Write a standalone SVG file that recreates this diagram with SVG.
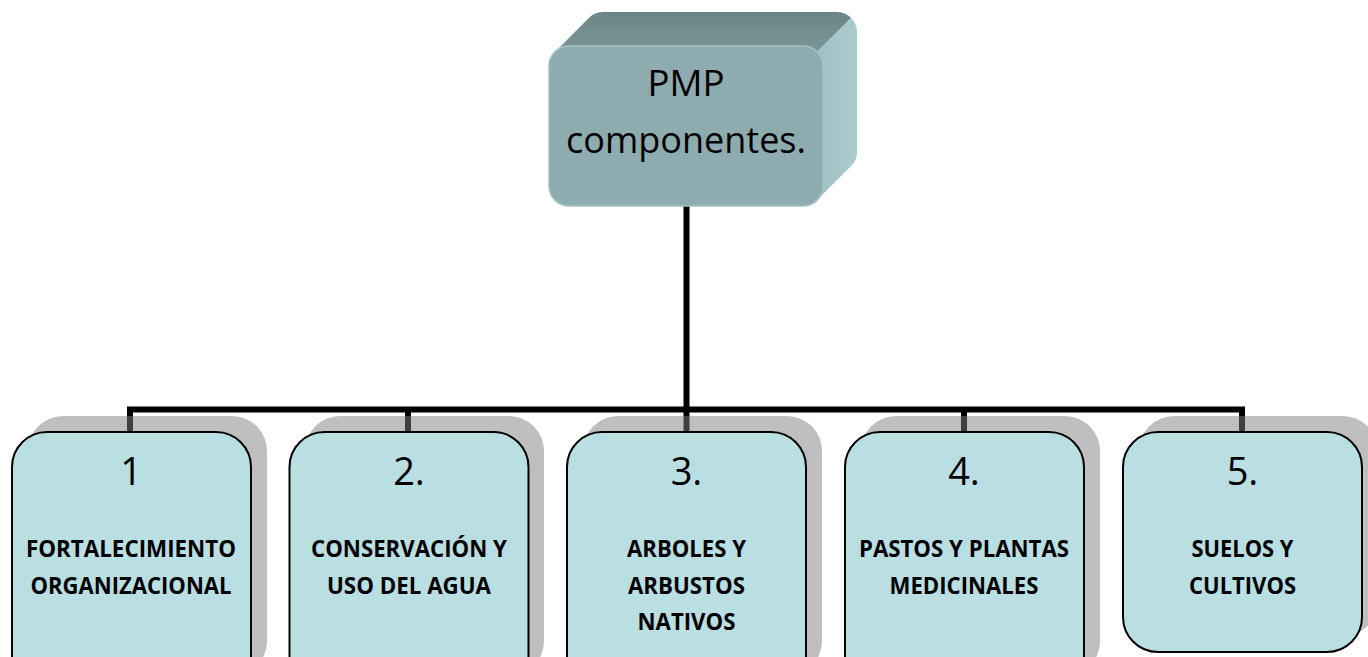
<svg xmlns="http://www.w3.org/2000/svg" width="1368" height="657" viewBox="0 0 1368 657">
<defs>
<linearGradient id="gTop" x1="0" y1="1" x2="0" y2="0">
<stop offset="0" stop-color="#7c9799"/>
<stop offset="1" stop-color="#6b8587"/>
</linearGradient>
<linearGradient id="gSide" x1="0" y1="0" x2="1" y2="0">
<stop offset="0" stop-color="#9fbfc2"/>
<stop offset="1" stop-color="#acccce"/>
</linearGradient>
</defs>
<style>
.line{stroke:#000;stroke-width:6;fill:none}
.shadow{fill:#808080;fill-opacity:0.5}
.box{fill:#b9dfe2;stroke:#000;stroke-width:2}
.num{font-family:"Open Sans","Noto Sans",sans-serif;font-size:38px;fill:#000;text-anchor:middle}
.lbl{font-family:"Open Sans","Noto Sans",sans-serif;font-size:23.5px;font-weight:bold;fill:#000;text-anchor:middle}
.top{font-family:"Open Sans","Noto Sans",sans-serif;font-size:36px;fill:#000;text-anchor:middle}
</style>
<rect width="1368" height="657" fill="#fff"/>
<g id="connectors">
<line class="line" x1="686.5" y1="206" x2="686.5" y2="409.5"/>
<line class="line" x1="127" y1="409.5" x2="1245" y2="409.5"/>
<line class="line" x1="130" y1="409" x2="130" y2="433"/>
<line class="line" x1="408" y1="409" x2="408" y2="433"/>
<line class="line" x1="686.5" y1="409" x2="686.5" y2="433"/>
<line class="line" x1="964" y1="409" x2="964" y2="433"/>
<line class="line" x1="1242" y1="409" x2="1242" y2="433"/>
</g>
<g id="root">
<path fill="url(#gTop)" d="M554.9,51.9 L588.9,17.9 A20,20 0 0 1 603,12 L837,12 A20,20 0 0 1 851.1,17.9 L817.1,51.9 A20,20 0 0 0 803,46 L569,46 A20,20 0 0 0 554.9,51.9 Z"/>
<path fill="url(#gSide)" d="M817.1,51.9 L851.1,17.9 A20,20 0 0 1 857,32 L857,152 A20,20 0 0 1 851.1,166.1 L817.1,200.1 A20,20 0 0 0 823,186 L823,66 A20,20 0 0 0 817.1,51.9 Z"/>
<rect x="549" y="46" width="274" height="160" rx="20" fill="#8eacaf" stroke="#a7c1c3" stroke-width="1.5"/>
<text class="top" x="686" y="96" textLength="77" lengthAdjust="spacingAndGlyphs">PMP</text>
<text class="top" x="686" y="153" textLength="240" lengthAdjust="spacingAndGlyphs">componentes.</text>
</g>
<g id="n1">
<rect class="shadow" x="28" y="416" width="239" height="260" rx="35"/>
<rect class="box" x="12" y="432" width="239" height="260" rx="35"/>
<text class="num" x="131" y="485">1</text>
<text class="lbl" x="131" y="557" textLength="210" lengthAdjust="spacingAndGlyphs">FORTALECIMIENTO</text>
<text class="lbl" x="131" y="594" textLength="201" lengthAdjust="spacingAndGlyphs">ORGANIZACIONAL</text>
</g>
<g id="n2">
<rect class="shadow" x="305" y="416" width="239" height="260" rx="35"/>
<rect class="box" x="289.5" y="432" width="239" height="260" rx="35"/>
<text class="num" x="409" y="485">2.</text>
<text class="lbl" x="409" y="557" textLength="196" lengthAdjust="spacingAndGlyphs">CONSERVACIÓN Y</text>
<text class="lbl" x="409" y="594" textLength="164" lengthAdjust="spacingAndGlyphs">USO DEL AGUA</text>
</g>
<g id="n3">
<rect class="shadow" x="583" y="416" width="239" height="260" rx="35"/>
<rect class="box" x="567" y="432" width="239" height="260" rx="35"/>
<text class="num" x="686.5" y="485">3.</text>
<text class="lbl" x="686.5" y="557" textLength="119" lengthAdjust="spacingAndGlyphs">ARBOLES Y</text>
<text class="lbl" x="686.5" y="593.5" textLength="117" lengthAdjust="spacingAndGlyphs">ARBUSTOS</text>
<text class="lbl" x="686.5" y="630" textLength="98" lengthAdjust="spacingAndGlyphs">NATIVOS</text>
</g>
<g id="n4">
<rect class="shadow" x="861" y="416" width="239" height="260" rx="35"/>
<rect class="box" x="845" y="432" width="239" height="260" rx="35"/>
<text class="num" x="964" y="485">4.</text>
<text class="lbl" x="964" y="557" textLength="210" lengthAdjust="spacingAndGlyphs">PASTOS Y PLANTAS</text>
<text class="lbl" x="964" y="594" textLength="149" lengthAdjust="spacingAndGlyphs">MEDICINALES</text>
</g>
<g id="n5">
<rect class="shadow" x="1139" y="416" width="239" height="220" rx="35"/>
<rect class="box" x="1123" y="432" width="239" height="220" rx="35"/>
<text class="num" x="1242.5" y="485">5.</text>
<text class="lbl" x="1242.5" y="557" textLength="102" lengthAdjust="spacingAndGlyphs">SUELOS Y</text>
<text class="lbl" x="1242.5" y="594" textLength="107" lengthAdjust="spacingAndGlyphs">CULTIVOS</text>
</g>
</svg>
